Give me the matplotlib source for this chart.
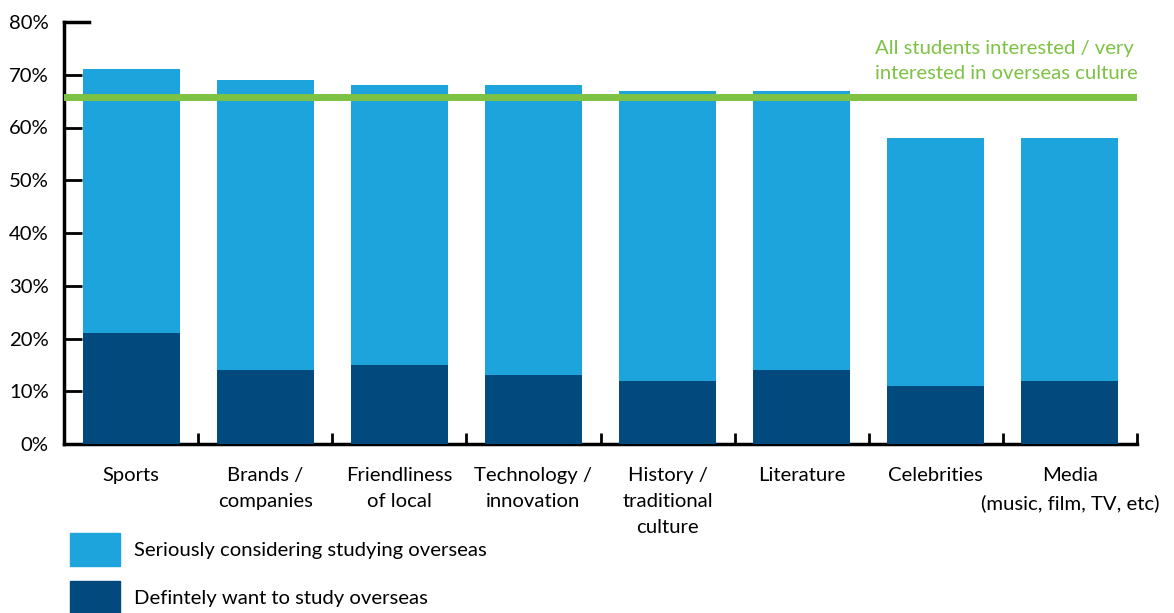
import matplotlib.pyplot as plt
from matplotlib.patches import Patch

# Survey results by area of interest (percent of students)
categories = ['Sports', 'Brands /\ncompanies', 'Friendliness\nof local',
              'Technology /\ninnovation', 'History /\ntraditional\nculture',
              'Literature', 'Celebrities', 'Media\n(music, film, TV, etc)']
total_considering = [71, 69, 68, 68, 67, 67, 58, 58]
definitely_want = [21, 14, 15, 13, 12, 14, 11, 12]
all_interested = 65.8

light_blue = '#1EA4DC'
dark_blue = '#024A7E'
green = '#7DC243'
fs = 14.6

plt.rcParams['font.family'] = ['Lato', 'DejaVu Sans']
plt.rcParams['font.size'] = fs

fig = plt.figure(figsize=(11.74, 6.13), dpi=100)
ax = fig.add_axes([64 / 1174, 169 / 613, 1073 / 1174, 422 / 613])

x = list(range(len(categories)))
ax.bar(x, total_considering, width=0.724, color=light_blue, zorder=2)
ax.bar(x, definitely_want, width=0.724, color=dark_blue, zorder=3)

# reference line for everyone interested in overseas culture
ax.axhline(all_interested, color=green, linewidth=5, zorder=4)
ax.text(5.55, 72.6, 'All students interested / very\ninterested in overseas culture',
        color=green, fontsize=fs, ha='left', va='center', linespacing=1.58)

ax.set_xlim(-0.5, 7.5)
ax.set_ylim(0, 80)
ax.set_yticks(range(0, 81, 10))
ax.set_yticklabels([f'{v}%' for v in range(0, 81, 10)])
ax.set_xticks(x)
ax.set_xticklabels(categories, linespacing=1.66, va='top')
ax.set_xticks([i + 0.5 for i in x], minor=True)

ax.tick_params(axis='y', direction='in', length=13, width=2, pad=11, color='black')
ax.tick_params(axis='x', which='major', length=0, pad=16.5)
ax.tick_params(axis='x', which='minor', direction='in', length=8, width=2)

# longer cap tick at the top of the y axis
ax.plot([-0.5, -0.31], [80, 80], color='black', linewidth=2.5, clip_on=False, zorder=5)

for side in ['top', 'right']:
    ax.spines[side].set_visible(False)
for side in ['left', 'bottom']:
    ax.spines[side].set_linewidth(2.5)

handles = [Patch(color=light_blue, label='Seriously considering studying overseas'),
           Patch(color=dark_blue, label='Defintely want to study overseas')]
fig.legend(handles=handles, loc='upper left', bbox_to_anchor=(70 / 1174, 1 - 533 / 613),
           frameon=False, fontsize=fs, handlelength=2.46, handleheight=2.12,
           labelspacing=0.74, handletextpad=0.7, borderpad=0, borderaxespad=0)

fig.savefig('out.png', dpi=100)
